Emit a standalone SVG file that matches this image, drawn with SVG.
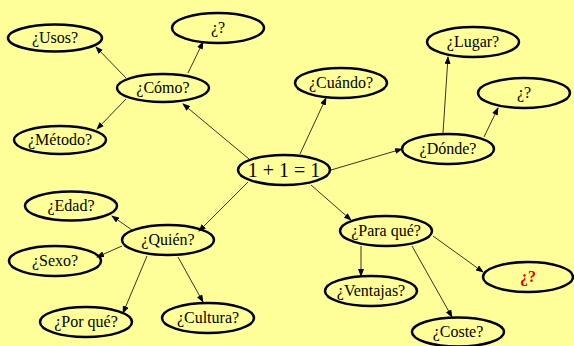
<svg xmlns="http://www.w3.org/2000/svg" width="574" height="346" viewBox="0 0 574 346">
<style>
.n ellipse{fill:none;stroke:#000;stroke-width:2.5}
text{font-family:'Liberation Serif','DejaVu Serif',serif;font-size:16px;fill:#000;text-anchor:middle}
#c line{stroke:#000;stroke-width:0.8;marker-end:url(#a)}
</style>
<defs>
<marker id="a" markerWidth="8" markerHeight="6" refX="7" refY="3" orient="auto" markerUnits="userSpaceOnUse">
<path d="M0,0 L8,3 L0,6 Z" fill="#000"/>
</marker>
</defs>
<rect width="574" height="346" fill="#FFFF99"/>
<g id="c">
<line x1="249" y1="159" x2="183" y2="104"/>
<line x1="126" y1="78" x2="96" y2="47"/>
<line x1="188" y1="73" x2="203" y2="42"/>
<line x1="126" y1="99" x2="97" y2="129"/>
<line x1="300" y1="154" x2="326" y2="98"/>
<line x1="331" y1="170" x2="402" y2="149"/>
<line x1="443" y1="133" x2="448" y2="57"/>
<line x1="484" y1="137" x2="498" y2="108"/>
<line x1="248" y1="182" x2="199" y2="231"/>
<line x1="132" y1="230" x2="112" y2="216"/>
<line x1="122" y1="246" x2="97" y2="257"/>
<line x1="147" y1="256" x2="123" y2="313"/>
<line x1="178" y1="257" x2="203" y2="302"/>
<line x1="311" y1="185" x2="351" y2="220"/>
<line x1="361" y1="246" x2="361" y2="276"/>
<line x1="412" y1="246" x2="452" y2="317"/>
<line x1="433" y1="236" x2="483" y2="272"/>
</g>
<g id="center" class="n"><ellipse cx="284" cy="170" rx="46" ry="15"/><text x="284" y="177" font-family="Liberation Serif, serif" style="font-size:20px">1 + 1 = 1</text></g>
<g id="como" class="n"><ellipse cx="163" cy="88" rx="46" ry="14"/><text x="163" y="93">¿Cómo?</text></g>
<g id="usos" class="n"><ellipse cx="55" cy="38" rx="47" ry="13.5"/><text x="55" y="43">¿Usos?</text></g>
<g id="q1" class="n"><ellipse cx="218" cy="28" rx="46" ry="15"/><text x="218" y="33">¿?</text></g>
<g id="metodo" class="n"><ellipse cx="60" cy="140" rx="46" ry="14"/><text x="60" y="145">¿Método?</text></g>
<g id="cuando" class="n"><ellipse cx="341" cy="83" rx="46" ry="15"/><text x="341" y="88">¿Cuándo?</text></g>
<g id="lugar" class="n"><ellipse cx="473" cy="42" rx="46" ry="15"/><text x="473" y="47">¿Lugar?</text></g>
<g id="q2" class="n"><ellipse cx="524" cy="93" rx="46" ry="15"/><text x="524" y="98">¿?</text></g>
<g id="donde" class="n"><ellipse cx="448" cy="149" rx="46" ry="15"/><text x="448" y="154">¿Dónde?</text></g>
<g id="quien" class="n"><ellipse cx="168" cy="240" rx="46" ry="15"/><text x="168" y="245">¿Quién?</text></g>
<g id="edad" class="n"><ellipse cx="71" cy="206" rx="46" ry="14.5"/><text x="71" y="211">¿Edad?</text></g>
<g id="sexo" class="n"><ellipse cx="55" cy="261" rx="46" ry="15"/><text x="55" y="266">¿Sexo?</text></g>
<g id="porque" class="n"><ellipse cx="86" cy="322" rx="46" ry="15"/><text x="86" y="327">¿Por qué?</text></g>
<g id="cultura" class="n"><ellipse cx="208" cy="318" rx="46" ry="15"/><text x="208" y="323">¿Cultura?</text></g>
<g id="paraque" class="n"><ellipse cx="386" cy="231" rx="46" ry="15"/><text x="386" y="236">¿Para qué?</text></g>
<g id="ventajas" class="n"><ellipse cx="371" cy="291" rx="46" ry="15"/><text x="371" y="296">¿Ventajas?</text></g>
<g id="q3" class="n"><ellipse cx="528" cy="277" rx="45" ry="15"/><text x="528" y="282" style="fill:#E00000;font-weight:bold">¿?</text></g>
<g id="coste" class="n"><ellipse cx="458" cy="332" rx="46" ry="14.5"/><text x="458" y="337">¿Coste?</text></g>
</svg>
